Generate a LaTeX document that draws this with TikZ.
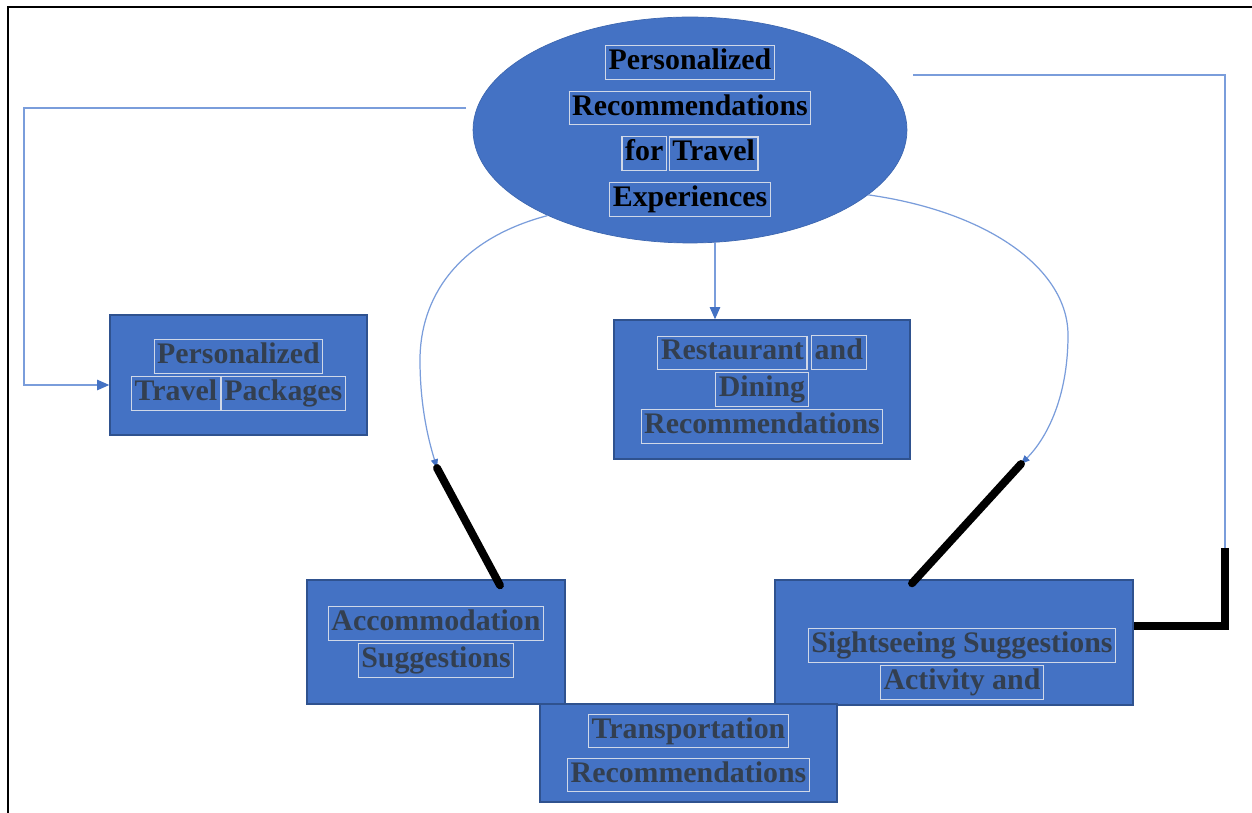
\documentclass[tikz,border=0pt]{standalone}
\usepackage{fontspec}
\setmainfont{Liberation Serif}
\usetikzlibrary{positioning,arrows.meta,calc,shapes.geometric}
\definecolor{cBox}{HTML}{4472C4}
\definecolor{cEdge}{HTML}{2F528F}
\definecolor{cInk}{HTML}{333F50}
\definecolor{cLink}{HTML}{7A9DDB}
\definecolor{cFrame}{HTML}{D0D8E8}
\setlength{\fboxsep}{1.5pt}
\setlength{\fboxrule}{0.6pt}
\newcommand{\wbox}[1]{\fcolorbox{cFrame}{cBox}{\vphantom{Apg}#1}}

\begin{document}
\begin{tikzpicture}[x=0.02cm,y=-0.02cm,
    every node/.style={inner sep=2pt,align=center},
    panel/.style={draw=cEdge,line width=0.8pt,fill=cBox,text=cInk,
      font=\bfseries\fontsize{17}{21}\selectfont},
    link/.style={draw=cLink,line width=0.7pt},
    tip/.style={-{Triangle[length=7pt,width=6pt,color=cBox]}},
    bar/.style={draw=black,line width=4.5pt}]
  \useasboundingbox (0,0) rectangle (1252,813);
  \draw[line width=1.2pt] (1252,7) -- (8,7) -- (8,813);

  \node[ellipse,fill=cBox,draw=cBox!90!black,line width=0.4pt,
        minimum width=8.68cm,minimum height=4.52cm,inner sep=0pt] (hub) at (690,130) {};
  \node[text=black,font=\bfseries\fontsize{17}{26}\selectfont] (hubTxt) at (690,131) {%
    \wbox{Personalized}\\ \wbox{Recommendations}\\
    \wbox{for}\hspace{1pt}\wbox{Travel}\\ \wbox{Experiences}};

  \node[panel,minimum width=5.14cm,minimum height=2.4cm] (pkg) at (238.5,375) {%
    \wbox{Personalized}\\ \wbox{Travel}\wbox{Packages}};
  \node[panel,minimum width=5.92cm,minimum height=2.78cm] (dine) at (762,389.5) {%
    \wbox{Restaurant}\hspace{2pt}\wbox{and}\\ \wbox{Dining}\\ \wbox{Recommendations}};
  \node[panel,minimum width=5.16cm,minimum height=2.48cm] (accom) at (436,642) {%
    \wbox{Accommodation}\\ \wbox{Suggestions}};
  \node[panel,minimum width=7.16cm,minimum height=2.5cm] (sight) at (954,642.5) {};
  \node[text=cInk,font=\bfseries\fontsize{17}{21}\selectfont] (sightTxt) at (962,664) {%
    \wbox{Sightseeing Suggestions}\\ \wbox{Activity and}};
  \node[panel,minimum width=5.94cm,minimum height=1.96cm,
        font=\bfseries\fontsize{17}{25}\selectfont] (trans) at (688.5,753) {%
    \wbox{Transportation}\\ \wbox{Recommendations}};

  \coordinate (hubL) at (466,108);
  \coordinate (lBot) at (24,385);
  \coordinate (hubR) at (913,75);
  \coordinate (rKnee) at (1225,548);
  \coordinate (rCorner) at (1225,626);
  \coordinate (midX) at (715,0);
  \coordinate (lTip) at (437,468);
  \coordinate (rTip) at (1021,464);

  \draw[link,tip] (hubL) -| (lBot) -- (lBot -| pkg.west);
  \draw[link,tip] (hub.south -| midX) -- (dine.north -| midX);
  \draw[link] (hubR) -| (rKnee);
  \draw[bar] (rKnee) -- (rCorner) -- (rCorner -| sight.east);

  \draw[link,-{Triangle[length=5pt,width=4pt,color=cBox]}] (hub.211)
    .. controls (455,240) and (420,300) .. (420,360)
    .. controls (420,410) and (430,445) .. (lTip);
  \draw[bar,line cap=round] (lTip) -- ([shift={(64,6)}]accom.north);
  \draw[link,-{Triangle[length=5pt,width=4pt,color=cBox]}] (hub.-20)
    .. controls (990,212) and (1068,270) .. (1068,335)
    .. controls (1068,400) and (1045,440) .. (rTip);
  \draw[bar,line cap=round] (rTip) -- ([shift={(-42,4)}]sight.north);
\end{tikzpicture}
\end{document}
